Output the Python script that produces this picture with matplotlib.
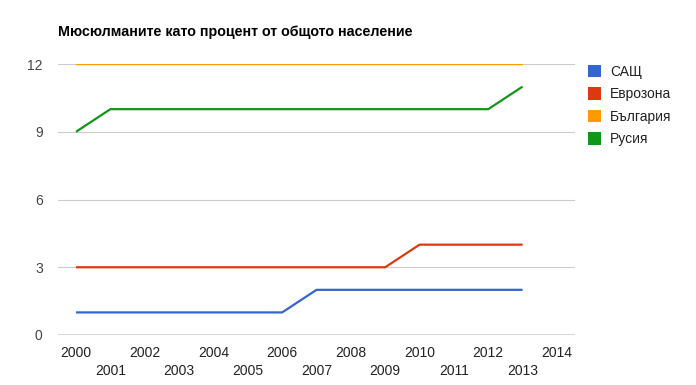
import matplotlib.pyplot as plt
from matplotlib.patches import Patch

plt.rcParams['font.family'] = ['Liberation Sans', 'DejaVu Sans']

# Data
years = list(range(2000, 2014))
usa = [1, 1, 1, 1, 1, 1, 1, 2, 2, 2, 2, 2, 2, 2]
eurozone = [3, 3, 3, 3, 3, 3, 3, 3, 3, 3, 4, 4, 4, 4]
bulgaria = [12] * 14
russia = [9, 10, 10, 10, 10, 10, 10, 10, 10, 10, 10, 10, 10, 11]

series_names = ['САЩ', 'Еврозона', 'България', 'Русия']
series_values = [usa, eurozone, bulgaria, russia]
colors = ['#3366cc', '#dc3912', '#ff9900', '#109618']

y_ticks = [0, 3, 6, 9, 12]
even_years = list(range(2000, 2015, 2))
odd_years = list(range(2001, 2015, 2))

fig = plt.figure(figsize=(6.96, 3.85), dpi=100)
ax = fig.add_axes([58 / 696, 1 - 335 / 385, (575 - 58) / 696, (335 - 64) / 385])

for vals, col in zip(series_values, colors):
    ax.plot(years, vals, color=col, linewidth=1.6, solid_capstyle='butt', zorder=3)

ax.set_xlim(2000 - 18 / 34.23, 2014 + 18 / 34.23)
ax.set_ylim(0, 12)

# grid
for y in y_ticks[1:]:
    ax.axhline(y, color='#cccccc', linewidth=0.8, zorder=1)
ax.axhline(0, color='#333333', linewidth=1.0, zorder=2)

for s in ax.spines.values():
    s.set_visible(False)

ax.set_yticks(y_ticks)
ax.set_yticklabels([str(v) for v in y_ticks])
ax.tick_params(axis='y', length=0, pad=11, labelsize=10, labelcolor='#444444')

ax.set_xticks(even_years)
ax.set_xticklabels([str(v) for v in even_years])
ax.set_xticks(odd_years, minor=True)
ax.set_xticklabels([str(v) for v in odd_years], minor=True)
ax.tick_params(axis='x', which='major', length=0, pad=8, labelsize=10, labelcolor='#222222')
ax.tick_params(axis='x', which='minor', length=0, pad=21, labelsize=10, labelcolor='#222222')

fig.text(58 / 696, 1 - 32 / 385, 'Мюсюлманите като процент от общото население',
         fontsize=10.3, fontweight='bold', va='center', ha='left', color='#000000')

handles = [Patch(facecolor=c, edgecolor='none') for c in colors]
fig.legend(handles, series_names, loc='upper left',
           bbox_to_anchor=(582 / 696, 1 - 59 / 385), frameon=False,
           fontsize=10, handlelength=1.0, handleheight=1.0, handletextpad=0.6,
           labelspacing=0.62, borderaxespad=0, labelcolor='#222222')

fig.savefig('out.png', dpi=100)
